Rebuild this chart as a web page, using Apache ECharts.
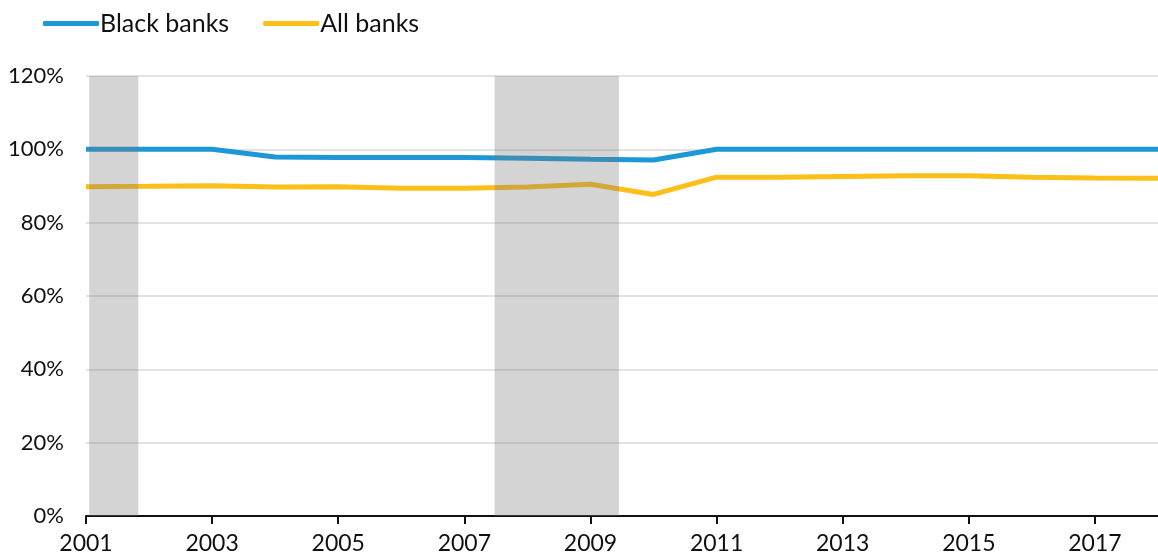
<!DOCTYPE html>
<html>
<head>
<meta charset="utf-8">
<script src="https://cdn.jsdelivr.net/npm/echarts@6/dist/echarts.min.js"></script>
<style>
  html, body { margin: 0; padding: 0; background: #fff; }
  #chart { width: 1158px; height: 557px; }
</style>
</head>
<body>
<div id="chart"></div>
<script>
// data
const years = [2001, 2002, 2003, 2004, 2005, 2006, 2007, 2008, 2009, 2010, 2011, 2012, 2013, 2014, 2015, 2016, 2017, 2018]
const blackBanks = [100, 100, 100, 97.9, 97.8, 97.8, 97.8, 97.6, 97.3, 97.1, 100, 100, 100, 100, 100, 100, 100, 100]
const allBanks = [89.8, 89.9, 90.1, 89.7, 89.8, 89.4, 89.4, 89.7, 90.5, 87.7, 92.4, 92.4, 92.6, 92.8, 92.8, 92.4, 92.2, 92.1]
const recessions = [[2001.05, 2001.83], [2007.48, 2009.45]]

const chart = echarts.init(document.getElementById('chart'))
const font = 'Lato, "Open Sans", sans-serif'

chart.setOption({
  animation: false,
  textStyle: { fontFamily: font },
  legend: {
    left: 38, top: 6,
    itemWidth: 56, itemHeight: 5, itemGap: 34,
    icon: 'roundRect',
    textStyle: { fontSize: 25, color: '#111', fontFamily: font, padding: [0, 0, 0, -4] },
    data: ['Black banks', 'All banks']
  },
  grid: { left: 86, top: 76, width: 1076, height: 440, containLabel: false },
  xAxis: {
    type: 'value', min: 2001, max: 2018, interval: 2,
    axisLine: { lineStyle: { color: '#111', width: 2 } },
    axisTick: { show: true, length: 8, lineStyle: { color: '#111', width: 2 } },
    axisLabel: { fontSize: 23, color: '#111', margin: 16, showMaxLabel: false, formatter: v => String(v) },
    splitLine: { show: false }
  },
  yAxis: {
    type: 'value', min: 0, max: 120, interval: 20,
    axisLine: { show: false },
    axisTick: { show: false },
    axisLabel: { fontSize: 22, color: '#111', margin: 22, formatter: '{value}%' },
    splitLine: { lineStyle: { color: '#d9d9d9', width: 1.5 } }
  },
  series: [
    {
      name: 'Black banks', type: 'line',
      data: years.map((y, i) => [y, blackBanks[i]]),
      showSymbol: false, symbol: 'none',
      lineStyle: { color: '#1b98d5', width: 5 },
      itemStyle: { color: '#1b98d5' },
      z: 3
    },
    {
      name: 'All banks', type: 'line',
      data: years.map((y, i) => [y, allBanks[i]]),
      showSymbol: false, symbol: 'none',
      lineStyle: { color: '#fcbf17', width: 5 },
      itemStyle: { color: '#fcbf17' },
      z: 3
    },
    {
      name: 'recession', type: 'line', data: [], z: 10,
      markArea: {
        silent: true, z: 10,
        itemStyle: { color: 'rgba(120,120,120,0.32)' },
        data: recessions.map(r => [{ xAxis: r[0], yAxis: 0 }, { xAxis: r[1], yAxis: 120 }])
      }
    }
  ]
})
</script>
</body>
</html>
